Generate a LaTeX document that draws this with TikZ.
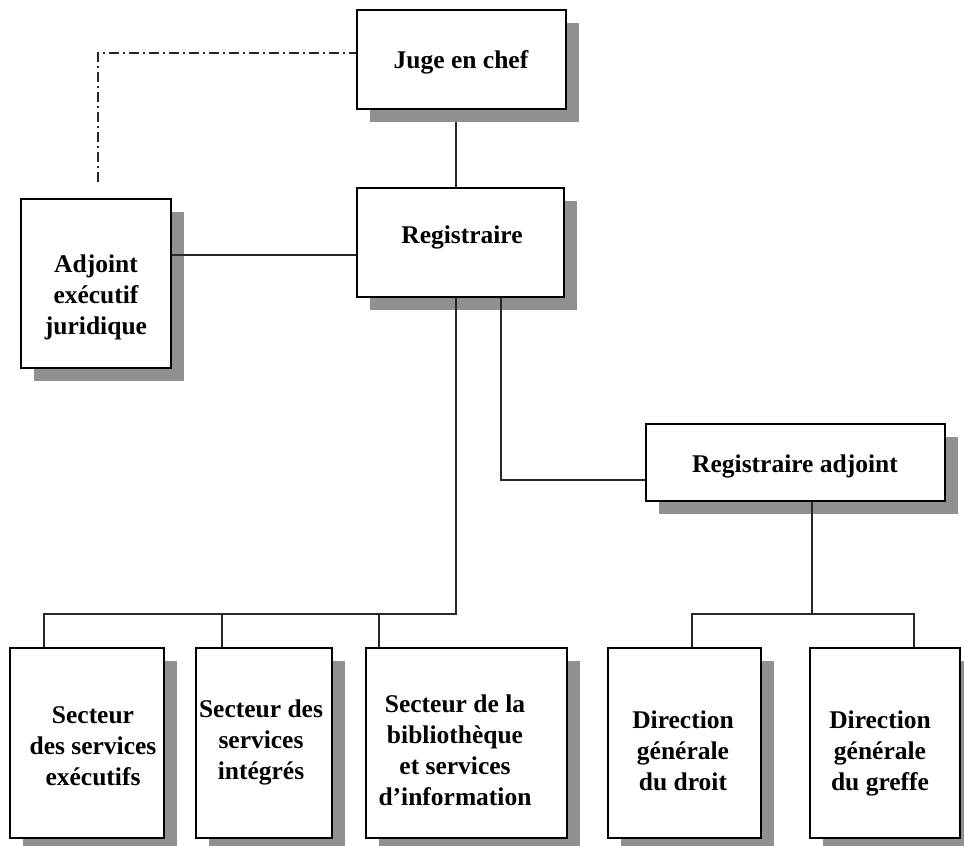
\documentclass[tikz,border=0pt]{standalone}
\usepackage{fontspec}
\setmainfont{Liberation Serif}
\usetikzlibrary{shadows,calc}
\definecolor{shadowgray}{RGB}{144,144,144}
\definecolor{linegray}{RGB}{40,40,40}
\newcommand\mylines[1]{\begin{tabular}[t]{@{}c@{}}#1\end{tabular}}
\begin{document}
\begin{tikzpicture}[x=1pt,y=-1pt,
  box/.style={draw=black, line width=1.5pt, fill=white, rectangle, inner sep=0pt,
     drop shadow={shadow xshift=12.5pt, shadow yshift=-12.5pt, fill=shadowgray, opacity=1}},
  lbl/.style={anchor=base, inner sep=0pt, font=\bfseries\fontsize{25.5}{31}\selectfont},
  conn/.style={draw=linegray, line width=1.3pt},
  dashdot/.style={draw=linegray, line width=1.3pt, dash pattern=on 10pt off 4pt on 2pt off 4pt}]
\useasboundingbox (0,0) rectangle (964,846);

% boxes
\node[box, minimum width=209pt, minimum height=99pt] (juge) at (461.5,59.5) {};
\node[box, minimum width=207pt, minimum height=109pt] (reg) at (460.5,242.5) {};
\node[box, minimum width=150pt, minimum height=169pt] (adj) at (96,283.5) {};
\node[box, minimum width=299pt, minimum height=77pt] (regadj) at (795.5,462.5) {};
\node[box, minimum width=154pt, minimum height=190pt] (b1) at (87,743) {};
\node[box, minimum width=136pt, minimum height=190pt] (b2) at (264,743) {};
\node[box, minimum width=201pt, minimum height=190pt] (b3) at (466.5,743) {};
\node[box, minimum width=153pt, minimum height=190pt] (b4) at (684.5,743) {};
\node[box, minimum width=150pt, minimum height=190pt] (b5) at (885,743) {};

% texts
\node[lbl] (jugeT) at (461,68) {Juge en chef};
\node[lbl] (regT) at (462,243) {Registraire};
\node[lbl] (adjT) at (96,272) {\mylines{Adjoint\\exécutif\\juridique}};
\node[lbl] (regadjT) at (795,472) {Registraire adjoint};
\node[lbl] (b1T) at (93,723) {\mylines{Secteur\\des services\\exécutifs}};
\node[lbl] (b2T) at (261,717) {\mylines{Secteur des\\services\\intégrés}};
\node[lbl] (b3T) at (455,712) {\mylines{Secteur de la\\bibliothèque\\et services\\d’information}};
\node[lbl] (b4T) at (683,728) {\mylines{Direction\\générale\\du droit}};
\node[lbl] (b5T) at (880,728) {\mylines{Direction\\générale\\du greffe}};

% connectors
\draw[conn] (456,0 |- juge.south) ++(0,12.5) -- (456,0 |- reg.north);
\draw[conn] (adj.east |- 0,255) -- (reg.west |- 0,255);
\coordinate (busL) at (456,614);
\draw[conn] (456,0 |- reg.south) -- (busL) -- (44,614) -- (44,0 |- b1.north);
\draw[conn] (222,614) -- (222,0 |- b2.north);
\draw[conn] (379,614) -- (379,0 |- b3.north);
\draw[conn] (501,0 |- reg.south) |- (regadj.west |- 0,480);
\coordinate (busR) at (812,614);
\draw[conn] (812,0 |- regadj.south) -- (busR);
\draw[conn] (692,0 |- b4.north) |- (914,614) -- (914,0 |- b5.north);
\coordinate (dashend) at (98,182);
\draw[dashdot] (dashend) |- (juge.west |- 0,53);
\end{tikzpicture}
\end{document}
